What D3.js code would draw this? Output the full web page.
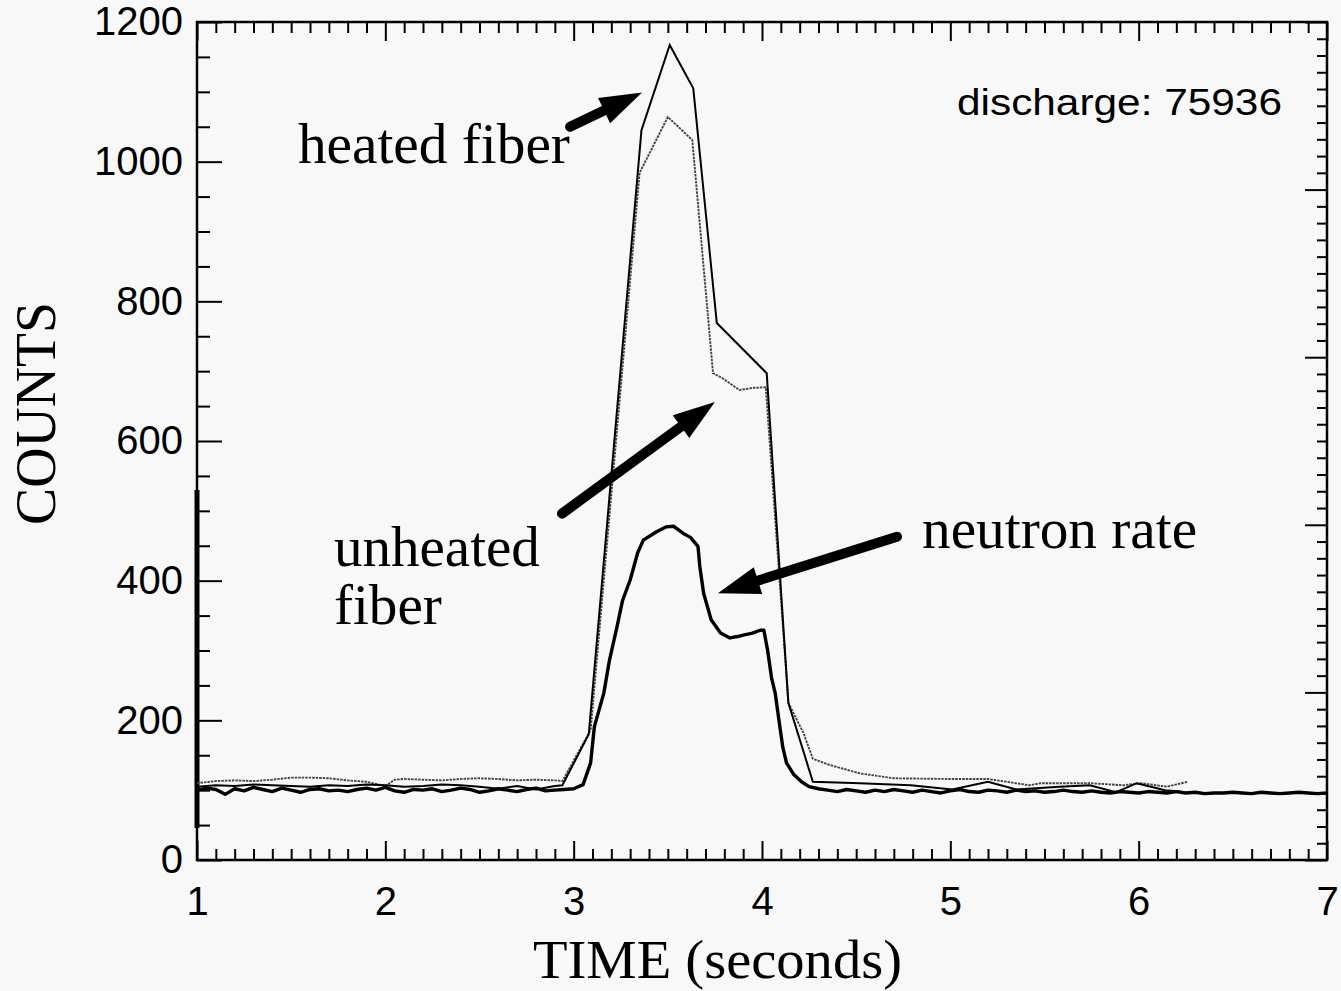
<!DOCTYPE html>
<html>
<head>
<meta charset="utf-8">
<script src="https://cdn.jsdelivr.net/npm/d3@7"></script>
<style>
  body { margin: 0; background: #f8f8f8; }
  .tick line { stroke: #000; stroke-width: 2; }
  .tick text { font-family: "Liberation Sans", Arial, sans-serif; font-size: 40px; fill: #000; }
</style>
</head>
<body>
<script>
// x tick labels and y tick labels
var xMajor = [1, 2, 3, 4, 5, 6, 7];
var yMajor = [0, 200, 400, 600, 800, 1000, 1200];

// neutron rate (thick line)
var neutronTime = [1.00, 1.05, 1.10, 1.15, 1.20, 1.25, 1.30, 1.35, 1.40, 1.45, 1.50, 1.55, 1.60, 1.65, 1.70, 1.75, 1.80, 1.85, 1.90, 1.95,
    2.00, 2.05, 2.10, 2.15, 2.20, 2.25, 2.30, 2.35, 2.40, 2.45, 2.50, 2.55, 2.60, 2.65, 2.70, 2.75, 2.80, 2.85, 2.90, 2.95,
    3.00, 3.05, 3.09, 3.11, 3.16, 3.19, 3.23, 3.26, 3.30, 3.34, 3.37, 3.44, 3.49, 3.53, 3.58, 3.62, 3.66, 3.67, 3.69, 3.71,
    3.73, 3.78, 3.83, 3.87, 3.90, 3.95, 3.99, 4.01, 4.03, 4.05, 4.07, 4.09, 4.11, 4.13, 4.17, 4.21, 4.25, 4.30,
    4.35, 4.40, 4.45, 4.50, 4.55, 4.60, 4.65, 4.70, 4.75, 4.80, 4.85, 4.90, 4.95, 5.00, 5.05, 5.10, 5.15, 5.20, 5.25, 5.30,
    5.35, 5.40, 5.45, 5.50, 5.55, 5.60, 5.65, 5.70, 5.75, 5.80, 5.85, 5.90, 5.95, 6.00, 6.05, 6.10, 6.15, 6.20, 6.25, 6.30,
    6.35, 6.40, 6.45, 6.50, 6.55, 6.60, 6.65, 6.70, 6.75, 6.80, 6.85, 6.90, 6.95, 7.00];
var neutronCounts = [100, 103, 101, 94, 102, 99, 104, 101, 98, 103, 100, 97, 101, 102, 99, 100, 98, 101, 103, 100,
    104, 99, 97, 101, 100, 102, 98, 100, 103, 101, 97, 99, 102, 100, 98, 101, 103, 99, 100, 101,
    102, 108, 139, 191, 239, 286, 334, 372, 401, 440, 458, 470, 477, 478, 468, 462, 449, 420, 382, 363,
    344, 325, 318, 320, 322, 325, 329, 329, 300, 262, 239, 200, 162, 139, 122, 112, 105, 102,
    100, 98, 101, 99, 97, 100, 98, 101, 99, 97, 100, 98, 96, 99, 101, 98, 97, 100, 99, 97,
    100, 98, 99, 97, 98, 100, 98, 97, 99, 97, 96, 98, 97, 96, 98, 97, 96, 98, 96, 97,
    95, 96, 96, 97, 96, 95, 97, 96, 95, 96, 97, 96, 95, 96];

// heated fiber (thin solid line)
var heatedTime = [1.0, 1.1, 1.2, 1.3, 1.4, 1.5, 1.6, 1.7, 1.8, 1.9, 2.0, 2.1, 2.2, 2.3, 2.4, 2.5, 2.6, 2.7, 2.8, 2.9,
    2.94, 3.08, 3.36, 3.51, 3.635, 3.76, 4.025, 4.14, 4.27, 4.52, 4.79, 5.01, 5.20, 5.35, 5.58, 5.74, 5.88, 5.99, 6.14, 6.22];
var heatedCounts = [105, 107, 106, 108, 107, 106, 105, 107, 106, 108, 107, 105, 106, 108, 107, 105, 102, 106, 101, 106,
    107, 180, 1045, 1167, 1105, 769, 697, 225, 112, 110, 107, 101, 112, 101, 105, 107, 97, 110, 100, 98];

// unheated fiber (grey line)
var unheatedTime = [1.0, 1.1, 1.2, 1.3, 1.4, 1.5, 1.6, 1.7, 1.8, 1.9, 2.0, 2.05, 2.1, 2.2, 2.3, 2.4, 2.5, 2.6, 2.7, 2.8, 2.9,
    2.94, 3.09, 3.35, 3.50, 3.63, 3.74, 3.79, 3.88, 3.95, 4.02, 4.14, 4.22, 4.27, 4.36, 4.52, 4.70, 5.00, 5.20, 5.30,
    5.42, 5.48, 5.74, 5.92, 6.01, 6.15, 6.26];
var unheatedCounts = [110, 113, 114, 113, 115, 118, 118, 117, 114, 112, 106, 115, 116, 115, 114, 116, 117, 116, 114, 115, 114,
    113, 186, 984, 1064, 1031, 697, 690, 673, 676, 677, 225, 182, 145, 136, 124, 117, 116, 116, 112,
    107, 110, 110, 107, 110, 105, 112];

var width = 1341, height = 991;
var margin = { top: 22, right: 14, bottom: 131, left: 197 },
    w = width - margin.left - margin.right,
    h = height - margin.top - margin.bottom;

var svg = d3.select("body")
    .append("svg")
    .attr("width", width)
    .attr("height", height);

svg.append("rect")
    .attr("width", "100%")
    .attr("height", "100%")
    .attr("fill", "#f8f8f8");

var g = svg.append("g")
    .attr("transform", "translate(" + margin.left + "," + margin.top + ")");

var x = d3.scaleLinear().domain([1, 7]).range([0, w]);
var y = d3.scaleLinear().domain([0, 1200]).range([h, 0]);
// unlabeled right hand scale
var y2 = d3.scaleLinear().domain([0, 5]).range([h, 0]);

function isMinor(v) { return Math.abs(v - Math.round(v)) > 1e-6; }
var xMinor = d3.range(1, 7.001, 0.1).filter(isMinor);
var yMinor = d3.range(0, 1201, 50).filter(function(v) { return v % 200 != 0; });
var y2Minor = d3.range(0, 5.001, 0.1).filter(isMinor);

// bottom axis
g.append("g").attr("transform", "translate(0," + h + ")")
    .call(d3.axisBottom(x).tickValues(xMinor).tickSize(-11).tickFormat(""));
g.append("g").attr("transform", "translate(0," + h + ")")
    .call(d3.axisBottom(x).tickValues(xMajor).tickSize(-19).tickPadding(27).tickFormat(d3.format("d")));
// top axis
g.append("g")
    .call(d3.axisTop(x).tickValues(xMinor).tickSize(-11).tickFormat(""));
g.append("g")
    .call(d3.axisTop(x).tickValues(xMajor).tickSize(-19).tickFormat(""));
// left axis
g.append("g")
    .call(d3.axisLeft(y).tickValues(yMinor).tickSize(-13).tickFormat(""));
g.append("g")
    .call(d3.axisLeft(y).tickValues(yMajor).tickSize(-25).tickPadding(14).tickFormat(d3.format("d")));
// right axis
g.append("g").attr("transform", "translate(" + w + ",0)")
    .call(d3.axisRight(y2).tickValues(y2Minor).tickSize(-10).tickFormat(""));
g.append("g").attr("transform", "translate(" + w + ",0)")
    .call(d3.axisRight(y2).tickValues(d3.range(0, 6)).tickSize(-22).tickFormat(""));

g.selectAll(".domain").remove();

// frame
g.append("rect")
    .attr("width", w)
    .attr("height", h)
    .attr("fill", "none")
    .attr("stroke", "#000")
    .attr("stroke-width", 2.5);

// thick piece on the left axis
g.append("line")
    .attr("x1", x(1)).attr("x2", x(1))
    .attr("y1", y(46)).attr("y2", y(530))
    .attr("stroke", "#000")
    .attr("stroke-width", 5);

function series(t, c) { return t.map(function(d, i) { return [d, c[i]]; }); }

var line = d3.line()
    .x(function(d) { return x(d[0]); })
    .y(function(d) { return y(d[1]); });

g.append("path")
    .datum(series(unheatedTime, unheatedCounts))
    .attr("d", line)
    .attr("fill", "none")
    .attr("stroke", "#444")
    .attr("stroke-width", 1.9)
    .attr("stroke-dasharray", "2.5,1");

g.append("path")
    .datum(series(heatedTime, heatedCounts))
    .attr("d", line)
    .attr("fill", "none")
    .attr("stroke", "#000")
    .attr("stroke-width", 2);

g.append("path")
    .datum(series(neutronTime, neutronCounts))
    .attr("d", line)
    .attr("fill", "none")
    .attr("stroke", "#000")
    .attr("stroke-width", 3.4)
    .attr("stroke-linejoin", "round");

// annotations (in data units)
var serif = '"Liberation Serif", "Times New Roman", serif';
var labels = [
    { t: 1.536, c: 998, text: "heated fiber", len: 272 },
    { t: 1.727, c: 421, text: "unheated", len: 206 },
    { t: 1.727, c: 338, text: "fiber", len: 108 },
    { t: 4.850, c: 447, text: "neutron rate", len: 275 }
];
g.selectAll(".note")
    .data(labels)
    .enter()
    .append("text")
    .attr("class", "note")
    .attr("x", function(d) { return x(d.t); })
    .attr("y", function(d) { return y(d.c); })
    .attr("textLength", function(d) { return d.len; })
    .attr("lengthAdjust", "spacingAndGlyphs")
    .style("font-family", serif)
    .style("font-size", "56px")
    .text(function(d) { return d.text; });

g.append("text")
    .attr("x", x(6.761))
    .attr("y", y(1067))
    .attr("text-anchor", "end")
    .attr("textLength", 325)
    .attr("lengthAdjust", "spacingAndGlyphs")
    .style("font-family", '"Liberation Sans", Arial, sans-serif')
    .style("font-size", "36px")
    .text("discharge: 75936");

// arrows: tail -> tip
var arrows = [
    { t0: 2.981, c0: 1050, t1: 3.363, c1: 1099 },
    { t0: 2.938, c0: 496, t1: 3.750, c1: 656 },
    { t0: 4.717, c0: 463, t1: 3.766, c1: 382 }
];
arrows.forEach(function(a) {
    var x0 = x(a.t0), y0 = y(a.c0), x1 = x(a.t1), y1 = y(a.c1);
    var dx = x1 - x0, dy = y1 - y0, len = Math.sqrt(dx * dx + dy * dy);
    var ux = dx / len, uy = dy / len;
    var hl = 42, hw = 14;
    var bx = x1 - ux * hl, by = y1 - uy * hl;
    g.append("line")
        .attr("x1", x0).attr("y1", y0)
        .attr("x2", bx + ux * 4).attr("y2", by + uy * 4)
        .attr("stroke", "#000")
        .attr("stroke-width", 10)
        .attr("stroke-linecap", "round");
    g.append("polygon")
        .attr("points", [[x1, y1], [bx - uy * hw, by + ux * hw], [bx + uy * hw, by - ux * hw]].join(" "))
        .attr("fill", "#000");
});

// axis titles
svg.append("text")
    .attr("x", 533)
    .attr("y", 978)
    .attr("textLength", 369)
    .attr("lengthAdjust", "spacingAndGlyphs")
    .style("font-family", serif)
    .style("font-size", "55px")
    .text("TIME (seconds)");

svg.append("text")
    .attr("transform", "translate(55,525) rotate(-90)")
    .attr("textLength", 223)
    .attr("lengthAdjust", "spacingAndGlyphs")
    .style("font-family", serif)
    .style("font-size", "56px")
    .text("COUNTS");
</script>
</body>
</html>
